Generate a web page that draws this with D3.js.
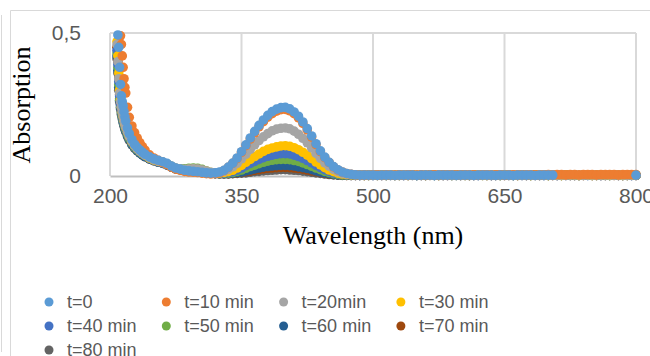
<!DOCTYPE html>
<html>
<head>
<meta charset="utf-8">
<script src="https://cdn.jsdelivr.net/npm/d3@7"></script>
<style>
  body { margin: 0; background: #fff; }
  svg { display: block; }
</style>
</head>
<body>
<figure id="chart" style="margin:0"></figure>
<script>
// wavelengths (nm) where the spectra were read
const wavelengths = [208,209,210,211,212,213,214,215,216,217,218,
  220,222,225,228,231,234,237,240,
  245,250,255,260,265,270,275,280,285,290,295,300,305,310,315,320,325,
  330,335,340,345,350,355,360,365,370,375,380,385,390,395,400,405,410,415,420,425,430,435,440,445,450,455,460,465,470,475,480,
  485,490,495,500,505,510,515,520,525,530,535,540,545,550,555,560,
  565,570,575,580,585,590,595,600,605,610,615,620,625,630,635,640,
  645,650,655,660,665,670,675,680,685,690,695,700,705,710,715,720,
  725,730,735,740,745,750,755,760,765,770,775,780,785,790,795,800];

const seriesNames = ["t=0", "t=10 min", "t=20min", "t=30 min", "t=40 min", "t=50 min", "t=60 min", "t=70 min", "t=80 min"];
const seriesColors = ["#5B9BD5", "#ED7D31", "#A5A5A5", "#FFC000", "#4472C4", "#70AD47", "#255E91", "#9E480E", "#636363"];

const absT0 = [null,0.493,0.45,0.38,0.32,0.28,0.26,0.245,0.225,0.207,0.192,
  0.168,0.148,0.127,0.111,0.100,0.091,0.083,0.076,
  0.067,0.060,0.055,0.050,0.044,0.035,0.028,0.024,0.020,0.018,0.016,0.015,0.013,0.011,0.010,0.011,0.014,
  0.020,0.031,0.045,0.063,0.085,0.109,0.133,0.156,0.177,0.196,0.212,0.225,0.234,0.239,0.240,0.235,0.224,0.209,0.189,0.166,0.140,0.113,0.088,0.066,0.048,0.033,0.022,0.014,0.009,0.006,0.004,
  0.003,0.003,0.003,0.003,0.002,0.003,0.003,0.003,0.002,0.003,0.003,0.003,0.003,0.002,0.003,0.003,
  0.003,0.002,0.003,0.003,0.003,0.003,0.002,0.003,0.003,0.003,0.002,0.003,0.003,0.003,0.003,0.002,
  0.003,0.003,0.003,0.002,0.003,0.003,0.003,0.003,0.002,0.003,0.003,0.003,0.003,null,null,null,
  null,null,null,null,null,null,null,null,null,null,null,null,null,null,null,0.003];
const absT10 = [null,null,null,null,0.49,0.46,0.42,0.38,0.34,0.31,0.29,
  0.240,0.205,0.175,0.152,0.133,0.117,0.103,0.090,
  0.074,0.063,0.055,0.048,0.040,0.031,0.024,0.020,0.016,0.014,0.013,0.012,0.010,0.008,0.007,0.008,0.011,
  0.019,0.030,0.044,0.061,0.083,0.106,0.129,0.151,0.172,0.190,0.206,0.218,0.227,0.232,0.233,0.228,0.218,0.203,0.184,0.161,0.136,0.110,0.085,0.064,0.047,0.032,0.021,0.014,0.009,0.006,0.004,
  0.003,0.003,0.003,0.004,0.003,0.003,0.004,0.003,0.003,0.004,0.003,0.004,0.004,0.003,0.004,0.003,
  0.004,0.004,0.003,0.004,0.004,0.004,0.003,0.004,0.004,0.004,0.004,0.003,0.004,0.004,0.004,0.004,
  0.004,0.003,0.004,0.004,0.004,0.004,0.004,0.004,0.004,0.004,0.004,0.005,0.004,0.005,0.005,0.004,
  0.005,0.005,0.004,0.005,0.005,0.005,0.004,0.005,0.005,0.005,0.005,0.004,0.005,0.005,0.005,0.005];
const absT20 = [0.46,0.40,0.34,0.29,0.26,0.24,0.225,0.21,0.195,0.183,0.172,
  0.155,0.140,0.122,0.108,0.097,0.088,0.081,0.074,
  0.064,0.057,0.052,0.048,0.042,0.034,0.027,0.024,0.023,0.024,0.025,0.024,0.021,0.017,0.013,0.011,0.012,
  0.016,0.023,0.032,0.044,0.060,0.076,0.093,0.109,0.124,0.137,0.148,0.158,0.164,0.167,0.168,0.165,0.157,0.146,0.132,0.116,0.098,0.079,0.062,0.046,0.034,0.023,0.015,0.010,0.007,0.005,0.004,
  0.003,0.003,0.002,0.003,0.003,0.002,0.003,0.003,0.003,0.002,0.003,0.003,0.002,0.003,0.003,0.003,
  0.002,0.003,0.003,0.002,0.003,0.003,0.003,0.002,0.003,0.003,0.002,0.003,0.003,0.003,0.002,0.003,
  0.003,0.002,0.003,0.003,0.003,0.002,0.003,0.003,0.002,0.003,0.003,0.003,0.002,0.003,0.003,0.002,
  0.003,0.003,0.003,0.002,0.003,0.003,0.002,0.003,0.003,0.003,0.002,0.003,0.003,0.002,0.003,0.003];
const absT30 = [0.47,0.42,0.36,0.30,0.265,0.24,0.222,0.207,0.193,0.180,0.170,
  0.153,0.138,0.120,0.106,0.096,0.087,0.080,0.073,
  0.063,0.056,0.051,0.047,0.041,0.033,0.026,0.023,0.022,0.023,0.024,0.023,0.020,0.016,0.012,0.010,0.010,
  0.012,0.015,0.020,0.028,0.037,0.048,0.058,0.068,0.077,0.086,0.093,0.098,0.102,0.105,0.106,0.104,0.099,0.092,0.083,0.073,0.061,0.049,0.039,0.029,0.021,0.015,0.010,0.007,0.005,0.004,0.003,
  0.003,0.002,0.003,0.003,0.002,0.003,0.003,0.003,0.002,0.003,0.003,0.002,0.003,0.003,0.003,0.002,
  0.003,0.003,0.002,0.003,0.003,0.003,0.002,0.003,0.003,0.002,0.003,0.003,0.003,0.002,0.003,0.003,
  0.002,0.003,0.003,0.003,0.002,0.003,0.003,0.002,0.003,0.003,0.003,0.002,0.003,0.003,0.002,0.003,
  0.003,0.003,0.002,0.003,0.003,0.002,0.003,0.003,0.003,0.002,0.003,0.003,0.002,0.003,0.003,0.003];
const absT40 = [0.44,0.39,0.33,0.28,0.25,0.23,0.215,0.200,0.187,0.175,0.165,
  0.149,0.135,0.117,0.104,0.094,0.085,0.078,0.071,
  0.062,0.055,0.050,0.046,0.040,0.032,0.026,0.023,0.022,0.023,0.024,0.023,0.020,0.015,0.011,0.009,0.009,
  0.010,0.012,0.015,0.021,0.028,0.036,0.044,0.051,0.058,0.064,0.069,0.073,0.076,0.078,0.078,0.077,0.073,0.068,0.062,0.054,0.046,0.037,0.029,0.022,0.016,0.011,0.008,0.006,0.004,0.003,0.003,
  0.002,0.003,0.003,0.002,0.003,0.002,0.003,0.003,0.002,0.003,0.002,0.003,0.003,0.002,0.003,0.002,
  0.003,0.002,0.003,0.003,0.002,0.003,0.002,0.003,0.003,0.002,0.003,0.002,0.003,0.003,0.002,0.003,
  0.002,0.003,0.003,0.002,0.003,0.002,0.003,0.003,0.002,0.003,0.002,0.003,0.003,0.002,0.003,0.002,
  0.003,0.003,0.002,0.003,0.002,0.003,0.003,0.002,0.003,0.002,0.003,0.003,0.002,0.003,0.002,0.003];
const absT50 = [0.43,0.38,0.32,0.27,0.245,0.225,0.210,0.196,0.183,0.172,0.162,
  0.146,0.132,0.115,0.102,0.092,0.084,0.077,0.071,
  0.063,0.057,0.052,0.048,0.042,0.034,0.027,0.025,0.025,0.027,0.028,0.027,0.023,0.017,0.012,0.009,0.008,
  0.009,0.010,0.012,0.016,0.021,0.027,0.033,0.038,0.043,0.048,0.052,0.055,0.057,0.058,0.058,0.057,0.054,0.051,0.046,0.040,0.034,0.028,0.022,0.016,0.012,0.008,0.006,0.004,0.003,0.003,0.003,
  0.003,0.003,0.002,0.003,0.003,0.003,0.002,0.003,0.003,0.002,0.003,0.003,0.003,0.002,0.003,0.003,
  0.003,0.002,0.003,0.003,0.003,0.002,0.003,0.003,0.002,0.003,0.003,0.003,0.002,0.003,0.003,0.003,
  0.002,0.003,0.003,0.002,0.003,0.003,0.003,0.002,0.003,0.003,0.003,0.002,0.003,0.003,0.002,0.003,
  0.003,0.003,0.002,0.003,0.003,0.003,0.002,0.003,0.003,0.002,0.003,0.003,0.003,0.002,0.003,0.003];
const absT60 = [0.42,0.37,0.31,0.265,0.24,0.22,0.205,0.190,0.178,0.167,0.157,
  0.141,0.128,0.111,0.099,0.089,0.081,0.074,0.068,
  0.060,0.054,0.049,0.045,0.039,0.031,0.025,0.022,0.021,0.022,0.023,0.022,0.019,0.014,0.010,0.008,0.008,
  0.008,0.009,0.010,0.012,0.014,0.018,0.021,0.025,0.028,0.031,0.033,0.035,0.036,0.037,0.037,0.036,0.035,0.032,0.029,0.026,0.022,0.018,0.014,0.011,0.008,0.006,0.004,0.003,0.003,0.002,0.002,
  0.002,0.002,0.003,0.002,0.002,0.003,0.002,0.002,0.002,0.003,0.002,0.002,0.003,0.002,0.002,0.002,
  0.003,0.002,0.002,0.002,0.003,0.002,0.002,0.002,0.003,0.002,0.002,0.002,0.003,0.002,0.002,0.002,
  0.002,0.003,0.002,0.002,0.002,0.003,0.002,0.002,0.003,0.002,0.002,0.002,0.003,0.002,0.002,0.003,
  0.002,0.002,0.002,0.003,0.002,0.002,0.003,0.002,0.002,0.002,0.003,0.002,0.002,0.003,0.002,0.002];
const absT70 = [0.45,0.40,0.34,0.285,0.25,0.228,0.212,0.198,0.185,0.173,0.163,
  0.147,0.133,0.116,0.103,0.093,0.085,0.078,0.071,
  0.062,0.056,0.051,0.047,0.041,0.033,0.026,0.023,0.022,0.023,0.024,0.023,0.020,0.015,0.011,0.009,0.008,
  0.008,0.008,0.009,0.011,0.012,0.015,0.017,0.020,0.022,0.025,0.027,0.028,0.029,0.030,0.030,0.029,0.028,0.026,0.024,0.021,0.018,0.015,0.012,0.009,0.007,0.005,0.004,0.003,0.002,0.002,0.002,
  0.002,0.002,0.002,0.003,0.002,0.002,0.002,0.003,0.002,0.002,0.002,0.002,0.003,0.002,0.002,0.002,
  0.002,0.003,0.002,0.002,0.002,0.002,0.003,0.002,0.002,0.002,0.002,0.003,0.002,0.002,0.002,0.002,
  0.003,0.002,0.002,0.002,0.002,0.003,0.002,0.002,0.002,0.002,0.003,0.002,0.002,0.002,0.002,0.003,
  0.002,0.002,0.002,0.002,0.003,0.002,0.002,0.002,0.002,0.003,0.002,0.002,0.002,0.002,0.003,0.002];
const absT80 = [0.41,0.36,0.30,0.26,0.235,0.215,0.200,0.186,0.174,0.163,0.154,
  0.138,0.125,0.109,0.097,0.088,0.080,0.073,0.067,
  0.059,0.053,0.048,0.044,0.038,0.031,0.025,0.022,0.021,0.022,0.023,0.022,0.019,0.014,0.010,0.008,0.007,
  0.007,0.007,0.008,0.009,0.010,0.011,0.013,0.015,0.016,0.018,0.019,0.020,0.021,0.022,0.022,0.021,0.020,0.019,0.017,0.015,0.013,0.011,0.009,0.007,0.005,0.004,0.003,0.002,0.002,0.002,0.002,
  0.002,0.002,0.002,0.002,0.003,0.002,0.002,0.002,0.002,0.002,0.003,0.002,0.002,0.002,0.002,0.002,
  0.003,0.002,0.002,0.002,0.002,0.002,0.003,0.002,0.002,0.002,0.002,0.002,0.003,0.002,0.002,0.002,
  0.002,0.002,0.003,0.002,0.002,0.002,0.002,0.002,0.003,0.002,0.002,0.002,0.002,0.002,0.003,0.002,
  0.002,0.002,0.002,0.002,0.003,0.002,0.002,0.002,0.002,0.002,0.003,0.002,0.002,0.002,0.002,0.002];

const seriesValues = [absT0, absT10, absT20, absT30, absT40, absT50, absT60, absT70, absT80];

const xTicks = [200, 350, 500, 650, 800];
const yTicks = [0, 0.5];

const width = 650, height = 356;
const plot = { left: 110, right: 636, top: 33, bottom: 176 };
const sansFont = "'Liberation Sans', Arial, sans-serif";
const serifFont = "'Liberation Serif', 'Times New Roman', serif";

const svg = d3.select("figure#chart")
  .append("svg")
  .attr("width", width)
  .attr("height", height);

// chart frame
svg.append("line").attr("x1", 1.5).attr("x2", 1.5).attr("y1", 15).attr("y2", 352)
  .attr("stroke", "#d9d9d9");
svg.append("path").attr("d", "M10.5,356V10.5H650")
  .attr("fill", "none").attr("stroke", "#d9d9d9");

const x = d3.scaleLinear().domain([200, 800]).range([plot.left, plot.right]);
const y = d3.scaleLinear().domain([0, 0.5]).range([plot.bottom, plot.top]);

// gridlines
svg.append("g")
  .selectAll("line")
  .data(xTicks)
  .enter()
  .append("line")
  .attr("x1", d => x(d)).attr("x2", d => x(d))
  .attr("y1", y(0.5)).attr("y2", y(0))
  .attr("stroke", "#d9d9d9")
  .attr("stroke-width", 2);
svg.append("line")
  .attr("x1", x(200)).attr("x2", x(800))
  .attr("y1", y(0.5)).attr("y2", y(0.5))
  .attr("stroke", "#d9d9d9")
  .attr("stroke-width", 2);

// X axis
const xAxis = svg.append("g")
  .attr("transform", "translate(0," + plot.bottom + ")")
  .call(d3.axisBottom(x).tickValues(xTicks).tickSize(0).tickPadding(12).tickFormat(d3.format("d")));
xAxis.select(".domain").attr("stroke", "#bfbfbf").attr("stroke-width", 2);

// Y axis
const yAxis = svg.append("g")
  .attr("transform", "translate(" + plot.left + ",0)")
  .call(d3.axisLeft(y).tickValues(yTicks).tickSize(0).tickPadding(29)
    .tickFormat(d => d === 0 ? "0" : String(d).replace(".", ",")));
yAxis.select(".domain").remove();

svg.selectAll(".tick text")
  .attr("font-family", sansFont)
  .attr("font-size", 21)
  .attr("fill", "#595959");

// series, last one first so t=0 sits on top
const order = d3.range(seriesValues.length).reverse();
order.forEach(i => {
  const pts = wavelengths
    .map((w, j) => ({ w: w, a: seriesValues[i][j] }))
    .filter(d => d.a !== null);
  svg.append("g")
    .selectAll("circle")
    .data(pts)
    .enter()
    .append("circle")
    .attr("cx", d => x(d.w))
    .attr("cy", d => y(d.a))
    .attr("r", 4.8)
    .attr("fill", seriesColors[i]);
});

// axis titles
svg.append("text")
  .attr("x", 373).attr("y", 244)
  .attr("text-anchor", "middle")
  .attr("font-family", serifFont)
  .attr("font-size", 26)
  .attr("fill", "#000")
  .text("Wavelength (nm)");
svg.append("text")
  .attr("transform", "translate(30,105) rotate(-90)")
  .attr("text-anchor", "middle")
  .attr("font-family", serifFont)
  .attr("font-size", 26)
  .attr("fill", "#000")
  .text("Absorption");

// legend
const legend = svg.append("g")
  .selectAll("g")
  .data(seriesNames)
  .enter()
  .append("g")
  .attr("transform", (d, i) => "translate(" + (49 + (i % 4) * 117.3) + "," + (302 + Math.floor(i / 4) * 24) + ")");
legend.append("circle")
  .attr("r", 4.5)
  .attr("fill", (d, i) => seriesColors[i]);
legend.append("text")
  .attr("x", 18)
  .attr("dy", "0.36em")
  .attr("font-family", sansFont)
  .attr("font-size", 18)
  .attr("fill", "#595959")
  .text(d => d);
</script>
</body>
</html>
